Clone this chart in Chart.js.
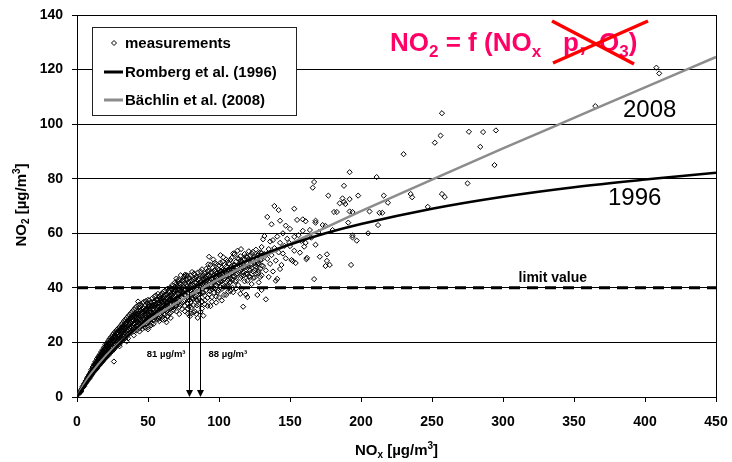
<!DOCTYPE html>
<html>
<head>
<meta charset="utf-8">
<script src="https://cdn.jsdelivr.net/npm/chart.js@4.4.1/dist/chart.umd.min.js"></script>
<style>
  html, body { margin: 0; padding: 0; background: #fff; }
  #wrap { width: 732px; height: 462px; }
</style>
</head>
<body>
<div id="wrap"><canvas id="no2Chart" width="732" height="462"></canvas></div>
<script>
// measured NOx / NO2 pairs [µg/m3]
var measurements = [
  [2,2],[2.5,1.8],[3,2.6],[3.5,3.1],[4,3.4],[4.5,4.1],[5,4.3],[5.5,5],[6,5.2],[6,5.8],[6.5,5.9],[7,6.1],[7,6.8],[7.5,6.6],[8,7],[8,7.6],[8.5,7.4],[9,8.1],[9,7.6],[9.5,8.6],[10,8.4],[10,9.2],
  [10.5,9],[11,9.5],[11,10.2],[11.5,9.8],[12,10.5],[12,11.2],[12.5,10.4],[13,11.5],[13,12.2],[13.5,11.3],[14,12.4],[14,13],[14.5,12],[15,13.1],[15,13.9],[15.5,12.9],[16,14],[16,14.8],[16.5,13.6],[17,14.8],[17,15.6],[17.5,14.3],[18,15.4],[18,16.4],[18.5,15.1],[19,16.3],[19,17.2],[19.5,15.8],[20,16.9],[20,17.8],[20,15.6],
  [20.5,18.4],[21,17.2],[21,18.9],[21.5,16.5],[22,18],[22,19.5],[22.5,17.4],[23,18.8],[23,20.2],[23.5,17.9],[24,19.5],[24,20.8],[24.5,18.4],[25,20],[25,21.4],[25.5,19],[26,20.6],[26,22],[26,13],[26.5,19.5],[27,21.2],[27,22.5],[27.5,20],[28,21.7],[28,23.1],[28.5,20.4],[29,22.1],[29,23.6],[29.5,21],[30,22.5],[30,24.2],[30,20.1],
  [30.5,21.8],[31,23.4],[31,25],[31.5,21],[32,23.9],[32,25.6],[32.5,22.4],[33,24.6],[33,26.3],[33.5,22.9],[34,25],[34,26.8],[34.5,23.3],[35,25.6],[35,27.4],[35.5,24],[36,26.2],[36,28],[36,21.5],[36.5,24.6],[37,26.6],[37,28.6],[37.5,25],[38,27.2],[38,29.2],[38.5,25.5],[39,27.6],[39,29.7],[39.5,26.1],[40,28],[40,30.2],[40,24],
  [40.5,26.8],[41,28.6],[41,30.8],[41.5,25.2],[42,27.4],[42,29.4],[42.5,31.2],[43,26],[43,28.3],[43,35],[43.5,30],[44,27],[44,29.1],[44.5,31.6],[45,25.8],[45,28.2],[45,30.4],[45.5,32.2],[46,27.5],[46,29.6],[46.5,31.4],[47,26.4],[47,28.8],[47,32.6],[47.5,30.3],[48,27.8],[48,29.9],[48.5,32],[49,26.9],[49,30.6],[49.5,28.4],[50,31.3],[50,29.2],[50,33.2],[50,25.6],
  [50.5,27.7],[51,30.1],[51,32.4],[51.5,28.6],[52,31],[52,33.5],[52.5,27],[53,29.5],[53,32],[53.5,34],[54,30.3],[54,28.2],[54.5,33],[55,31.2],[55,35],[55.5,29],[56,32.1],[56,34.2],[56.5,30.4],[57,33.2],[57,35.6],[57.5,28.6],[58,31.5],[58,34],[58.5,36],[59,32.6],[59,30],[59.5,34.8],[60,33.1],[60,36.4],[60,29.4],
  [60.5,31.6],[61,34.5],[61,37],[61.5,32.4],[62,35.3],[62,28.4],[62.5,33.6],[63,36.2],[63,27.4],[63.5,34.6],[64,31.8],[64,37.8],[64.5,35.4],[65,33],[65,38.4],[65.5,36],[66,34],[66,31],[66.5,37.2],[67,35.2],[67,39.5],[67.5,32.8],[68,36.5],[68,38.9],[68.5,34.4],[69,37.3],[69,40.4],[69.5,33.4],[70,36],[70,39],[70,41.5],
  [70.5,34.5],[71,37.8],[71,40.6],[71.5,43],[72,35.6],[72,39.2],[72.5,37],[73,41.2],[73,33.8],[73.5,39.8],[74,36.4],[74,42.6],[74.5,38.2],[75,40.4],[75,35.2],[75.5,44.2],[76,37.6],[76,41.8],[76.5,39.2],[77,36],[77,43],[77.5,40.6],[78,38.2],[78,30.6],[78.5,42.2],[79,39.6],[79,35.5],[79.5,29.6],[80,41],[80,37.4],[80,44.6],[80.5,32.8],[81,39.4],[81,42.7],[81.5,35.8],[82,40.8],[82,38],[82.5,45.3],[83,31.4],[83,42],[83.5,36.8],[84,39.6],[84,44],[84.5,33.6],[85,41.2],[85,29],[85.5,38.6],[86,43.4],[86,36],[86.5,40.2],[87,46],[87,31.2],[87.5,42.1],[88,38.4],[88,35],[88.5,44.4],[89,40.6],[89,29.8],[89.5,42.8],[90,37.2],[90,45.2],[90,40.4],
  [90.5,43.6],[91,39.2],[91,47],[91.5,41.4],[92,36.4],[92,44.6],[92.5,48.6],[93,42],[93,51.4],[93.5,38.8],[94,45.6],[94,33.3],[94.5,41],[95,43.2],[95,34.9],[95.5,47.4],[96,40],[96,44.4],[96.5,38.2],[97,42.6],[97,49.2],[97.5,45.8],[98,40.8],[98,36.8],[98.5,43.8],[99,47],[99,41.6],[99.5,39],[100,44.6],[100,48.2],[101,52],[101,42.4],[101.5,46],[102,39.6],[102,44],[102.5,49.6],[103,41.2],[103,46.8],[103.5,37.4],[104,43.4],[104,48.4],[104.5,45],[105,40.6],[105,50.4],[106,42.8],[106,46.6],[106.5,38.6],[107,44.8],[107,49],[107.5,41.8],[108,47.2],[108,43.6],[109,45.6],[109,51],[109.5,40],[110,48.4],[110,44.2],[110,38.4],
  [111,46.4],[111,52.4],[111.5,42.2],[112,49.6],[112,44.8],[113,47.6],[113,53.6],[113.5,41],[114,45.8],[114,50.6],[115,43.6],[115,48.8],[115.5,54.2],[116,46.6],[116,39.6],[117,33.1],[117,50.2],[117.5,44.6],[118,47.8],[118,52.4],[119,37.5],[119,45.2],[119.5,49.2],[120,36.6],[120,42.6],[120,51.2],[121,46.8],[121,53.4],[122,44],[122,48.6],[123,52.6],[123,41.4],[124,46],[124,50.2],[125,51.4],[125,43.8],[126,47.8],[126,54],[127,37.4],[127,51.8],[127.5,45.4],[128,49],[128,42],[129,47],[129,53],[130,39.2],[130,50.4],[130,55],[130,44.6],
  [131,57.8],[131,48],[132,59],[132,52.4],[133,35.8],[133,46.4],[134,66],[134,50.6],[135,54.2],[135,44],[136,48.8],[136,57],[137,63.3],[137,52],[138,57.5],[138,46],[139,70],[139,54.6],[140,42.6],[140,50],[141,43.3],[141,58.8],[142,68.5],[142,53],[143,64.6],[143,56.5],[143,46.9],[144,48.4],[145,52.6],[145,60],[146,55.4],[147,62.8],[147,50.8],[148,58],[149.5,56.5],[150,55.3],[150,61.6],
  [151,50.2],[152,49.8],[153,69],[153,53.6],[153,58.7],[154,49.1],[155,64.9],[156,59.3],[157,52.9],[158,57.2],[159,65.1],[159,60.9],[160,55.1],[161,64.4],[161,56.5],[161.5,50.5],[162,51],[164,61.2],[165,58.4],[166,76.7],[167,78.8],[167,43.2],[168,64.6],[168,63.9],[168,55.8],[170,60.4],[171,51.4],[173,63],[175,62.7],[175,48],[176,52.3],[176,49.9],[177,73.8],[178,48.4],[180,61.2],[181,67.8],[183,67.8],[185,71],[187,72.8],[188,71.5],[188,77.4],[189,70.7],[191,63.9],[192,82.4],[192,72.5],[192,68],[193,48.4],[194,67.8],[194,59.2],[194,58.5],[197,57.3],[198,73.8],
  [205,60],[206,68],[211,80.6],[212,63],[213,67.5],[215,67.5],[216,73.8],[219,71.2],[230,89],[235,74.4],[236,73.2],[247,69.7],[252,93.2],[256,95.8],[257,104],[257,74.4],[259,73.3],[275,78.3],[276,97.2],[284,91.7],[286,97.1],[294,85],[295,97.7],[365,106.6],[408,120.7],[410,118.6],
  // second pass over the dense cloud
  [1.5,1.2],[3,2.2],[4,3.8],[5,4.8],[5,3.9],[6,4.9],[7,5.6],[7.5,7.2],[8,6.4],[8.5,8.2],[9,7],[9.5,9.1],[10,7.8],[10,10],
  [10.5,8.3],[11,11],[11.5,9.1],[12,9.7],[12,12],[12.5,11.8],[13,10.6],[13,13],[13.5,12.8],[14,11.4],[14,14],[14.5,13.6],[15,12.1],[15,14.8],[15.5,14.3],[16,13],[16,15.6],[16.5,15.2],[17,13.6],[17,16.5],[17.5,16],[18,14.2],[18,17.3],[18.5,16.8],[19,14.9],[19,18.2],[19.5,17.6],[20,14.8],[20,19.2],[20,18.6],
  [20.5,16],[21,19.8],[21,15.6],[21.5,19.1],[22,16.4],[22,20.6],[22.5,19.8],[23,17],[23,21.4],[23.5,20.6],[24,17.6],[24,22],[24.5,21.4],[25,18.2],[25,22.8],[25.5,21.8],[26,19],[26,23.4],[26.5,22.6],[27,19.6],[27,24],[27.5,23.4],[28,20.2],[28,24.6],[28.5,23.8],[29,20.8],[29,25.2],[29.5,24.4],[30,21.3],[30,25.6],[30,18.6],
  [30.5,25],[31,21.8],[31,26.4],[31.5,24.4],[32,22.3],[32,27],[32.5,25.6],[33,23],[33,27.8],[33.5,26.4],[34,23.8],[34,28.4],[34.5,27],[35,24.4],[35,29],[35.5,27.8],[36,24.8],[36,29.6],[36.5,28.3],[37,25.4],[37,30.2],[37.5,28.8],[38,26],[38,30.8],[38.5,29.4],[39,26.4],[39,31.4],[39.5,29.8],[40,26.8],[40,32],
  [40.5,29.6],[41,27.2],[41,32.6],[41.5,30.2],[42,28.2],[42,33.2],[42.5,27.6],[43,31.6],[43.5,33.8],[44,28.4],[44,32.8],[44.5,29.8],[45,33.6],[45.5,27],[46,30.8],[46,34.4],[46.5,28.6],[47,34.8],[47.5,31.8],[48,29.2],[48,33.6],[48.5,35.2],[49,28.4],[49,32.2],[49.5,34.4],[50,30.4],[50,35.6],
  [50.5,33.8],[51,29.2],[51,35.4],[51.5,31.6],[52,34.6],[52,29.8],[52.5,32.8],[53,36.2],[53.5,30.6],[54,35],[54,32.2],[54.5,36.8],[55,29.8],[55,33.4],[55.5,37.2],[56,30.8],[56,35.6],[56.5,33],[57,37.8],[57,31.4],[57.5,34.6],[58,36.8],[58,29.4],[58.5,33.2],[59,37.4],[59,35.4],[59.5,31.6],[60,38],[60,34.6],
  [60.5,36],[61,30.4],[61,38.6],[61.5,35],[62,33],[62,39],[62.5,37.2],[63,31.6],[63,34.4],[63.5,39.6],[64,36],[64,33.4],[64.5,38.8],[65,35.6],[65,30.6],[65.5,40],[66,37.6],[66,35.6],[66.5,33],[67,37.4],[67,41],[67.5,35.6],[68,33.2],[68,40.8],[68.5,38.4],[69,35.6],[69,42],[69.5,38.8],[70,33.4],[70,43.4],
  [71,35.8],[71,42.4],[72,37.4],[72,41.6],[73,39],[73,44.6],[74,34.6],[74,40.2],[75,38],[75,42.6],[76,35.4],[76,44.8],[77,38.6],[77,41.2],[78,36.6],[78,44.4],[79,41.8],[79,33.2],[80,39.2],[80,42.6],[81,36.4],[81,45.8],[82,43],[82,33.6],[83,39.2],[83,44.8],[84,37.6],[84,41.8],[85,35.6],[85,45.6],[86,39],[86,41.6],[87,37.8],[87,44.2],[88,41.4],[88,46.8],[89,38.2],[89,44.6],[90,42.4],[90,35.4],
  [91,44.4],[92,40.6],[92,46.2],[93,37.6],[93,44.6],[94,42.4],[94,48.4],[95,39.4],[95,45.6],[96,42.2],[96,50.4],[97,39.8],[97,46.6],[98,43.8],[98,48.8],[99,44.2],[99,38.4],[100,42],[100,46.6],[101,40.2],[101,49.2],[102,42.4],[102,47.4],[103,44.4],[103,51.2],[104,40.6],[104,46.2],[105,44.4],[105,47.8],[106,40.8],[106,49.8],[107,46.8],[108,42.2],[108,50.2],[109,43.2],[109,48],[110,46.4],[110,52.6],
  [111,44.2],[112,47.4],[112,42.6],[113,50.8],[114,48.2],[115,46.2],[115,51.6],[116,44.2],[116,49.6],[117,47.4],[118,42.4],[118,50.6],[119,47.6],[120,48.8],[120,45],[121,44.2],[121,50.2],[122,46.4],[122,51.8],[123,48.4],[124,43.6],[124,53.2],[125,48.2],[126,45.2],[126,50.8],[127,48.6],[128,52.4],[128,46.2],[129,50.2],[129,44],[130,48.2],[130,52.8],
  // third pass: lower edge and gaps of the cloud
  [14,10.4],[16,11.8],[18,13],[20,14.2],[22,15.2],[24,16.4],[26,17.4],[28,18.6],[30,19.4],[32,20.6],[34,21.6],[35,20.4],[36,22.8],[38,23.6],[40,22.6],[40,25],[42,24.4],[42,26],[44,25.2],[44,24],[46,26.2],[46,25],[48,26.6],[48,25.4],[50,27.4],[50,24.8],[52,28.4],[52,26.2],[54,29.2],[54,26.8],[56,28.4],[56,30],[58,27.8],[58,30.4],[60,31.2],[60,28.4],[62,30.2],[62,32],[64,29.6],[64,32.6],[66,32.4],[66,29],[68,31.8],[68,34.2],[70,31.4],[70,34.8],[72,33],[72,30.4],[74,32.2],[74,38.6],[76,33.4],[76,31.4],[78,34.2],[78,32.4],[80,34.8],[80,30.6],[82,36],[82,31],[84,35.6],[84,30.4],[86,33.8],[88,32.4],[90,34],[92,33.4],[95,36.6],[98,34.6],[100,36.6],[102,35.4],[105,37.4],[108,38.8],[112,39.8],[115,37.8],
  [11,9.9],[13,11.8],[15,13.5],[17,15.2],[19,16.8],[21,18.4],[23,19.6],[25,20.8],[27,22],[29,23],[31,24.2],[33,25.4],[35,26.4],[37,27.4],[39,28.6],[41,29.6],[43,30.6],[45,31.6],[47,31],[49,31.6],[51,33.4],[53,33.4],[55,34],[57,34.4],[59,36.2],[61,35.8],[63,37.6],[65,37],[67,38.2],[69,39],[71,39.4],[73,40.4],[75,43.2],[77,44.6],[79,43.6],[81,41.2],[83,43.4],[85,43],[87,40],[89,43.4],[91,42.6],[93,46.2],[95,41.8],[97,44],[99,45.4],[101,44.2],[103,43],[105,45.6],[107,43.2],[109,46.8],[111,48.4],[113,45.2],[115,49.8],[117,45.8],[119,51.6],[121,48],[123,50.4],[125,46.4],[127,49.6],[129,51.6]
];

// model curves
var curveNox    = [0, 5, 10, 20, 30, 40, 50, 60, 70, 80, 90, 100, 125, 150, 175, 200, 250, 300, 350, 400, 450];
var rombergNo2  = [0, 3.8, 7.4, 13.8, 19.5, 24.4, 28.9, 32.8, 36.4, 39.6, 42.6, 45.3, 51.1, 55.9, 60.0, 63.4, 69.0, 73.4, 76.9, 79.7, 82.2];
var baechlinNo2 = [0, 4.7, 8.6, 14.9, 19.9, 24.2, 27.9, 31.3, 34.5, 37.5, 40.4, 43.2, 49.8, 56.1, 62.1, 68.1, 79.7, 91.1, 102.3, 113.5, 124.6];

var limitValue = 40;
var crossingNox = [79, 86.5];
var crossingLabels = ['81 µg/m³', '88 µg/m³'];

var seriesLabels = ['measurements', 'Romberg et al. (1996)', 'Bächlin et al. (2008)'];
var FONT = "'Liberation Sans', Arial, sans-serif";

function toXY(xs, ys) {
  return xs.map(function(x, i) { return { x: x, y: ys[i] }; });
}

// text with sub/superscript pieces: [text, 'n'|'sub'|'sup']
function richWidth(ctx, parts, size, weight) {
  var w = 0;
  parts.forEach(function(p) {
    var s = p[1] === 'n' ? size : Math.round(size * 0.65);
    ctx.font = weight + ' ' + s + 'px ' + FONT;
    w += ctx.measureText(p[0]).width;
  });
  return w;
}
function drawRich(ctx, parts, x, y, size, weight) {
  ctx.textBaseline = 'alphabetic';
  ctx.textAlign = 'left';
  parts.forEach(function(p) {
    var s = p[1] === 'n' ? size : Math.round(size * 0.65);
    var dy = p[1] === 'sub' ? size * 0.22 : (p[1] === 'sup' ? -size * 0.42 : 0);
    ctx.font = weight + ' ' + s + 'px ' + FONT;
    ctx.fillText(p[0], x, y + dy);
    x += ctx.measureText(p[0]).width;
  });
}

var extras = {
  id: 'extras',
  afterDraw: function(chart) {
    var ctx = chart.ctx;
    var a = chart.chartArea;
    var xs = chart.scales.x, ys = chart.scales.y;
    ctx.save();

    // right frame line
    ctx.strokeStyle = '#000';
    ctx.lineWidth = 1;
    ctx.beginPath();
    ctx.moveTo(Math.round(a.right) + 0.5, a.top);
    ctx.lineTo(Math.round(a.right) + 0.5, a.bottom + 4);
    ctx.stroke();

    // arrows at the crossing points
    ctx.fillStyle = '#000';
    crossingNox.forEach(function(v, i) {
      var px = Math.round(xs.getPixelForValue(v)) + 0.5;
      var top = ys.getPixelForValue(limitValue);
      var bot = ys.getPixelForValue(0);
      ctx.beginPath();
      ctx.moveTo(px, top);
      ctx.lineTo(px, bot - 5);
      ctx.stroke();
      ctx.beginPath();
      ctx.moveTo(px - 3.5, bot - 7);
      ctx.lineTo(px + 3.5, bot - 7);
      ctx.lineTo(px, bot);
      ctx.closePath();
      ctx.fill();
      ctx.font = 'bold 9.5px ' + FONT;
      ctx.textAlign = i === 0 ? 'right' : 'left';
      ctx.textBaseline = 'alphabetic';
      ctx.fillText(crossingLabels[i], i === 0 ? px - 4 : px + 8, ys.getPixelForValue(14.7));
    });

    // limit value label
    ctx.font = 'bold 14px ' + FONT;
    ctx.textAlign = 'left';
    ctx.fillText('limit value', xs.getPixelForValue(311), ys.getPixelForValue(limitValue) - 6);

    // year labels
    ctx.font = '24px ' + FONT;
    ctx.fillText('2008', 623, 117);
    ctx.fillText('1996', 608, 205);

    // legend box
    ctx.fillStyle = '#fff';
    ctx.fillRect(92, 27, 204, 88);
    ctx.strokeStyle = '#222';
    ctx.strokeRect(92.5, 27.5, 204, 88);
    ctx.fillStyle = '#000';
    ctx.font = 'bold 15px ' + FONT;
    ctx.textBaseline = 'middle';
    var rows = [43, 72, 100];
    seriesLabels.forEach(function(lbl, i) {
      ctx.fillText(lbl, 125, rows[i] + 1);
    });
    ctx.lineWidth = 1;
    ctx.strokeStyle = '#000';
    ctx.fillStyle = '#fff';
    ctx.beginPath();
    ctx.moveTo(114, rows[0] - 2.5); ctx.lineTo(116.5, rows[0]); ctx.lineTo(114, rows[0] + 2.5); ctx.lineTo(111.5, rows[0]);
    ctx.closePath(); ctx.fill(); ctx.stroke();
    ctx.lineWidth = 3;
    ctx.beginPath(); ctx.moveTo(104, rows[1]); ctx.lineTo(123, rows[1]); ctx.stroke();
    ctx.strokeStyle = '#8c8c8c';
    ctx.beginPath(); ctx.moveTo(104, rows[2]); ctx.lineTo(123, rows[2]); ctx.stroke();

    // formula + red cross
    ctx.fillStyle = '#ff0066';
    drawRich(ctx, [['NO', 'n'], ['2', 'sub'], [' = f (NO', 'n'], ['x', 'sub']], 390, 51, 26, 'bold');
    drawRich(ctx, [['p,', 'n']], 563, 51, 26, 'bold');
    drawRich(ctx, [['O', 'n'], ['3', 'sub'], [')', 'n']], 599, 51, 26, 'bold');
    ctx.strokeStyle = '#ff0000';
    ctx.lineWidth = 3.5;
    ctx.beginPath(); ctx.moveTo(552, 21); ctx.lineTo(634, 64); ctx.stroke();
    ctx.beginPath(); ctx.moveTo(553, 63); ctx.lineTo(648, 21); ctx.stroke();

    // axis titles
    ctx.fillStyle = '#000';
    var xt = [['NO', 'n'], ['x', 'sub'], [' [µg/m', 'n'], ['3', 'sup'], [']', 'n']];
    var w = richWidth(ctx, xt, 15, 'bold');
    drawRich(ctx, xt, (a.left + a.right) / 2 - w / 2, 455, 15, 'bold');
    var yt = [['NO', 'n'], ['2', 'sub'], [' [µg/m', 'n'], ['3', 'sup'], [']', 'n']];
    w = richWidth(ctx, yt, 15, 'bold');
    ctx.translate(26, 205);
    ctx.rotate(-Math.PI / 2);
    drawRich(ctx, yt, -w / 2, 0, 15, 'bold');
    ctx.restore();
  }
};

var ctx = document.getElementById('no2Chart').getContext('2d');
new Chart(ctx, {
  type: 'scatter',
  data: {
    datasets: [
      {
        label: seriesLabels[1],
        data: toXY(curveNox, rombergNo2),
        showLine: true,
        borderColor: '#000',
        borderWidth: 2.5,
        pointRadius: 0,
        cubicInterpolationMode: 'monotone',
        order: 1
      },
      {
        label: seriesLabels[2],
        data: toXY(curveNox, baechlinNo2),
        showLine: true,
        borderColor: '#8c8c8c',
        borderWidth: 2.5,
        pointRadius: 0,
        cubicInterpolationMode: 'monotone',
        order: 2
      },
      {
        label: 'limit value',
        data: [{ x: 0, y: limitValue }, { x: 450, y: limitValue }],
        showLine: true,
        borderColor: '#000',
        borderWidth: 3,
        borderDash: [11, 7],
        pointRadius: 0,
        order: 3
      },
      {
        label: seriesLabels[0],
        data: measurements.map(function(p) { return { x: p[0], y: p[1] }; }),
        pointStyle: 'rectRot',
        pointRadius: 2.6,
        borderWidth: 1,
        borderColor: '#000',
        backgroundColor: 'rgba(255,255,255,0)',
        order: 4
      }
    ]
  },
  options: {
    responsive: false,
    animation: false,
    layout: { padding: { top: 15, right: 16, left: 0, bottom: 0 } },
    plugins: { legend: { display: false }, tooltip: { enabled: false } },
    scales: {
      x: {
        min: 0, max: 450,
        afterFit: function(s) { s.height = 65; s.paddingLeft = 0; s.paddingRight = 0; },
        ticks: { stepSize: 50, color: '#000', padding: 12, font: { family: FONT, size: 14, weight: 'bold' } },
        grid: { drawOnChartArea: false, color: '#000', tickLength: 5 },
        border: { color: '#000' }
      },
      y: {
        min: 0, max: 140,
        afterFit: function(s) { s.width = 77; s.paddingTop = 0; s.paddingBottom = 0; },
        ticks: { stepSize: 20, color: '#000', padding: 9, font: { family: FONT, size: 14, weight: 'bold' } },
        grid: { color: '#000', tickLength: 5 },
        border: { color: '#000' }
      }
    }
  },
  plugins: [extras]
});
</script>
</body>
</html>
